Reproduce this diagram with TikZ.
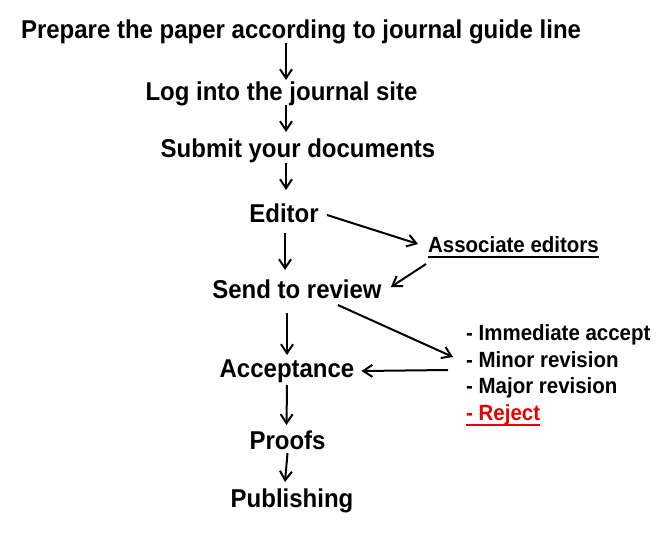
\documentclass[tikz,border=0pt]{standalone}
\usepackage{fontspec}
\setmainfont{Liberation Sans}[FakeStretch=0.93]
\usetikzlibrary{arrows.meta,fit}
\definecolor{rejred}{RGB}{230,0,0}
\tikzset{
  stagebox/.style={inner sep=0pt, anchor=base, font=\bfseries\fontsize{25.8}{30}\selectfont},
  sidebox/.style={inner sep=0pt, anchor=base west, font=\bfseries\fontsize{22}{26}\selectfont},
  arr/.style={line width=2pt, -{Straight Barb[length=9pt,width=12pt]}},
  uline/.style={line width=1.8pt}
}
\begin{document}
\begin{tikzpicture}[x=1pt,y=1pt]
\useasboundingbox (0,0) rectangle (666,-543);
\node[stagebox] (title) at (301,-39) {Prepare the paper according to journal guide line};
\node[stagebox] (log) at (281.5,-100) {Log into the journal site};
\node[stagebox] (submit) at (298,-157) {Submit your documents};
\node[stagebox] (editor) at (284,-222) {Editor};
\node[sidebox] (assoc) at (428,-252) {Associate editors};
\node[stagebox] (send) at (297,-298) {Send to review};
\node[sidebox] (l1) at (466,-340) {- Immediate accept};
\node[sidebox] (l2) at (466,-367) {- Minor revision};
\node[sidebox] (l3) at (466,-393) {- Major revision};
\node[sidebox, text=rejred] (l4) at (466,-420) {- Reject};
\node[stagebox] (acc) at (287,-377) {Acceptance};
\node[stagebox] (proofs) at (287.5,-449) {Proofs};
\node[stagebox] (pub) at (292,-507) {Publishing};

\draw[uline] ([yshift=-5]assoc.base west) -- ([yshift=-5]assoc.base east);
\draw[uline, rejred] ([yshift=-5]l4.base west) -- ([yshift=-5]l4.base east);

\draw[arr] ([shift={(-15,-4)}]title.base) -- ([shift={(4.5,20)}]log.base);
\draw[arr] ([shift={(4.5,-5)}]log.base) -- ([shift={(-12,25)}]submit.base);
\draw[arr] ([shift={(-12,-6)}]submit.base) -- ([shift={(2,32)}]editor.base);
\draw[arr] ([shift={(1,-11)}]editor.base) -- ([shift={(-12,28)}]send.base);
\draw[arr] ([shift={(43,7)}]editor.base) -- ([shift={(-10,8)}]assoc.base west);
\draw[arr] ([shift={(-2,-12)}]assoc.base west) -- ([shift={(9,11)}]send.base east);
\draw[arr] ([shift={(-10,-15)}]send.base) -- ([shift={(0,22)}]acc.base);
\draw[arr] ([shift={(-44,-7)}]send.base east) -- ([shift={(-13,10)}]l2.base west);
\draw[arr] ([shift={(-18,-3)}]l2.base west) -- ([shift={(7,6)}]acc.base east);
\draw[arr] ([shift={(0,-8)}]acc.base) -- ([shift={(-1,24)}]proofs.base);
\draw[arr] ([shift={(0,-4)}]proofs.base) -- ([shift={(-7,25)}]pub.base);
\end{tikzpicture}
\end{document}
